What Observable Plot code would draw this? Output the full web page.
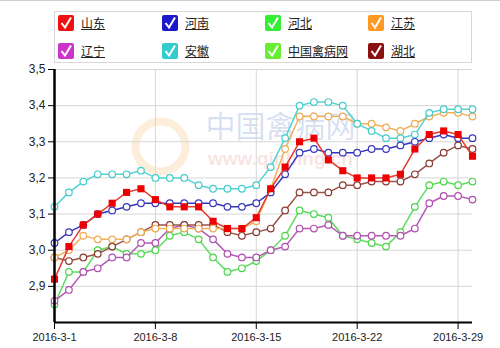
<!DOCTYPE html>
<html>
<head>
<meta charset="utf-8">
<script src="https://cdn.jsdelivr.net/npm/d3@7"></script>
<script src="https://cdn.jsdelivr.net/npm/@observablehq/plot@0.6"></script>
<style>
  html, body { margin: 0; padding: 0; background: #fff; }
  body { width: 500px; height: 348px; overflow: hidden; position: relative; font-family: "Liberation Sans", Arial, sans-serif; }
  #topline { position: absolute; left: 0; top: 0; width: 500px; height: 1px; background: #cfcfcf; }
  #legend { position: absolute; left: 54px; top: 11px; width: 418px; height: 52px; border: 1px solid #d8d8d8; box-sizing: border-box; z-index: 2; }
  .item { position: absolute; height: 16px; display: flex; align-items: center; }
  .box { width: 16px; height: 16px; border-radius: 2px; display: inline-block; }
  .lab { margin-left: 7px; font-family: "Noto Sans CJK SC", sans-serif; font-size: 12px; color: #222; text-decoration: underline; line-height: 16px; }
  #chart { position: absolute; left: 0; top: 55px; z-index: 1; }
</style>
</head>
<body>
<div id="topline"></div>
<div id="legend"></div>
<div id="chart"></div>
<script>
// ---- data ----
const days = [1,2,3,4,5,6,7,8,9,10,11,12,13,14,15,16,17,18,19,20,21,22,23,24,25,26,27,28,29,30];
const shandong = [2.92,3.01,3.07,3.10,3.13,3.16,3.17,3.14,3.12,3.12,3.12,3.08,3.06,3.06,3.09,3.17,3.23,3.30,3.31,3.25,3.22,3.20,3.20,3.20,3.21,3.28,3.32,3.33,3.32,3.26];
const henan    = [3.02,3.05,3.07,3.10,3.11,3.12,3.13,3.13,3.13,3.13,3.13,3.13,3.12,3.12,3.13,3.16,3.21,3.27,3.28,3.27,3.27,3.27,3.28,3.28,3.29,3.30,3.31,3.32,3.31,3.31];
const hebei    = [2.85,2.94,2.94,3.00,3.01,2.99,2.99,3.00,3.04,3.05,3.03,2.98,2.94,2.95,2.97,3.00,3.04,3.11,3.10,3.09,3.04,3.03,3.02,3.01,3.05,3.12,3.18,3.19,3.18,3.19];
const jiangsu  = [2.98,3.00,3.04,3.03,3.03,3.03,3.05,3.06,3.06,3.06,3.06,3.06,3.06,3.06,3.08,3.17,3.28,3.37,3.37,3.37,3.37,3.35,3.35,3.34,3.33,3.35,3.37,3.38,3.38,3.37];
const liaoning = [2.86,2.89,2.94,2.95,2.98,2.98,3.02,3.02,3.06,3.07,3.06,3.03,2.99,2.98,2.98,3.00,3.01,3.06,3.06,3.07,3.04,3.04,3.04,3.04,3.04,3.06,3.13,3.15,3.15,3.14];
const anhui    = [3.12,3.16,3.19,3.21,3.21,3.21,3.22,3.20,3.20,3.20,3.18,3.17,3.17,3.17,3.18,3.23,3.31,3.40,3.41,3.41,3.40,3.35,3.33,3.31,3.31,3.32,3.38,3.39,3.39,3.39];
const hubei    = [2.98,2.97,2.98,2.99,3.01,3.03,3.05,3.07,3.07,3.07,3.07,3.07,3.05,3.04,3.05,3.06,3.11,3.16,3.16,3.16,3.18,3.18,3.19,3.19,3.19,3.21,3.24,3.27,3.29,3.28];

const legendNames  = ["山东","河南","河北","江苏","辽宁","安徽","中国禽病网","湖北"];
const legendColors = ["#ee1111","#1a1acc","#33ee33","#ff9922","#cc33cc","#33cccc","#66ee33","#8b1111"];

const yTicks = [2.9, 3.0, 3.1, 3.2, 3.3, 3.4, 3.5];
const xTickDays = [1, 8, 15, 22, 29];

const watermarkTitle = "中国禽病网";
const watermarkUrl = "www.qinbing.cn";

// series drawn (name, values, line color, marker color, marker type)
const series = [
  {name: "河北",  values: hebei,    line: "#5fdc5f", mark: "#4bd64b", square: false},
  {name: "辽宁",  values: liaoning, line: "#b45ab4", mark: "#b050b0", square: false},
  {name: "湖北",  values: hubei,    line: "#9a5548", mark: "#8a3a30", square: false},
  {name: "江苏",  values: jiangsu,  line: "#f0b25a", mark: "#eeaa55", square: false},
  {name: "安徽",  values: anhui,    line: "#55d3d3", mark: "#44cccc", square: false},
  {name: "河南",  values: henan,    line: "#3535b8", mark: "#3a3ac0", square: false},
  {name: "山东",  values: shandong, line: "#e4392c", mark: "#ee0000", square: true}
];

// ---- legend ----
const legend = document.getElementById("legend");
const colX = [3, 107, 210, 313];
const rowY = [3, 31];
legendNames.forEach((n, i) => {
  const it = document.createElement("div");
  it.className = "item";
  it.style.left = colX[i % 4] + "px";
  it.style.top = rowY[Math.floor(i / 4)] + "px";
  it.innerHTML = `<span class="box" style="background:${legendColors[i]}"><svg width="16" height="16"><polyline points="3.5,8 7,12.5 13,2.5" fill="none" stroke="#fff" stroke-width="2"/></svg></span><span class="lab">${n}</span>`;
  legend.appendChild(it);
});

// ---- chart ----
const date = d => new Date(Date.UTC(2016, 2, d));
const fmtY = d => d3.format(".1f")(d).replace(".", ",");
const fmtX = d => `2016-${d.getUTCMonth() + 1}-${d.getUTCDate()}`;

const marks = [
  Plot.dot([0], {frameAnchor: "top-left", dx: 106, dy: 77, r: 25, fill: "none", stroke: "#f5b060", strokeOpacity: 0.22, strokeWidth: 8}),
  Plot.text([watermarkTitle], {frameAnchor: "top", dx: 17, dy: 46, fontSize: 30, fill: "#4a6fc8", fillOpacity: 0.22, fontFamily: "Noto Sans CJK SC"}),
  Plot.text([watermarkUrl], {frameAnchor: "top", dx: 17, dy: 82, fontSize: 19, fontWeight: "bold", fill: "#e06a6a", fillOpacity: 0.2}),
  Plot.gridY({ticks: yTicks, stroke: "#d6d6d6", strokeOpacity: 1}),
  Plot.gridX({ticks: xTickDays.map(date), stroke: "#d6d6d6", strokeOpacity: 1})
];

series.forEach(s => {
  const rows = days.map((d, i) => ({date: date(d), value: s.values[i]}));
  marks.push(Plot.line(rows, {x: "date", y: "value", stroke: s.line, strokeWidth: 1.5}));
  if (s.square) {
    marks.push(Plot.dot(rows, {x: "date", y: "value", symbol: "square", r: 4, fill: s.mark, stroke: "none"}));
  } else {
    marks.push(Plot.dot(rows, {x: "date", y: "value", r: 3.3, fill: "#fff", stroke: s.mark, strokeWidth: 1.2}));
  }
});

marks.push(
  Plot.ruleY([2.8], {stroke: "#000", strokeWidth: 2}),
  Plot.ruleX([date(1)], {stroke: "#000", strokeWidth: 2.5}),
  Plot.axisY({ticks: yTicks, tickFormat: fmtY, tickSize: 6, tickPadding: 3, fontSize: 12, stroke: "#000", fill: "#222", label: null}),
  Plot.axisX({ticks: xTickDays.map(date), tickFormat: fmtX, tickSize: 7, tickPadding: 4, fontSize: 11, stroke: "#000", fill: "#222", label: null})
);

const chart = Plot.plot({
  width: 500,
  height: 293,
  marginLeft: 54,
  marginRight: 28,
  marginTop: 14,
  marginBottom: 26,
  style: {background: "transparent", fontFamily: "Liberation Sans, Arial, sans-serif"},
  x: {type: "utc", domain: [date(1), date(30)]},
  y: {domain: [2.8, 3.5]},
  marks
});
document.getElementById("chart").appendChild(chart);
</script>
</body>
</html>
